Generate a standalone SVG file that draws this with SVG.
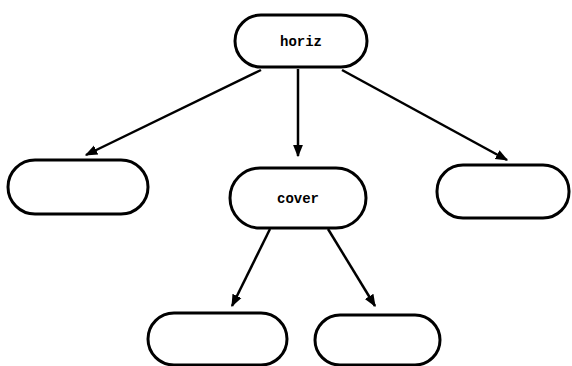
<svg xmlns="http://www.w3.org/2000/svg" width="572" height="366" viewBox="0 0 572 366">
<style>
.node{fill:#fff;stroke:#000;stroke-width:3}
.edge{fill:none;stroke:#000;stroke-width:2.5;marker-end:url(#ah)}
text{font-family:"Liberation Mono","DejaVu Sans Mono",monospace;font-size:14px;font-weight:bold;fill:#000;text-anchor:middle}
</style>
<defs>
<marker id="ah" viewBox="0 0 10 10" refX="9" refY="5" markerWidth="5" markerHeight="5" orient="auto" markerUnits="strokeWidth">
<path d="M0,1 L10,5 L0,9 z" fill="#000"/>
</marker>
</defs>
<rect width="572" height="366" fill="#fff"/>
<g id="connectors">
<line class="edge" x1="261" y1="70" x2="86" y2="155"/>
<line class="edge" x1="298" y1="69" x2="298" y2="156"/>
<line class="edge" x1="342" y1="70" x2="507" y2="160"/>
<line class="edge" x1="270" y1="229" x2="232" y2="306"/>
<line class="edge" x1="328" y1="229" x2="375" y2="306"/>
</g>
<g id="horiz"><rect class="node" x="235" y="15" width="132" height="52" rx="26"/><text x="301" y="46">horiz</text></g>
<g id="left"><rect class="node" x="8" y="160" width="140" height="54" rx="27"/></g>
<g id="cover"><rect class="node" x="230" y="168" width="136" height="60" rx="30"/><text x="298" y="203">cover</text></g>
<g id="right"><rect class="node" x="437" y="165" width="132" height="53" rx="26"/></g>
<g id="bottomleft"><rect class="node" x="148" y="313" width="139" height="52" rx="26"/></g>
<g id="bottomright"><rect class="node" x="315" y="315" width="125" height="50" rx="25"/></g>
</svg>
